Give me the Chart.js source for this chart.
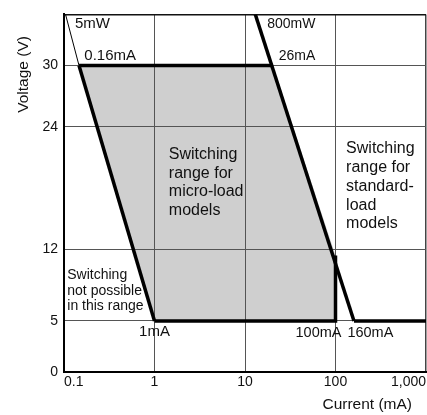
<!DOCTYPE html>
<html>
<head>
<meta charset="utf-8">
<script src="https://cdn.jsdelivr.net/npm/chart.js@4.4.0/dist/chart.umd.min.js"></script>
<style>
  html, body { margin: 0; padding: 0; background: #fff; }
  canvas { display: block; }
</style>
</head>
<body>
<canvas id="rangeChart" width="427" height="415"></canvas>
<script>
// axis ticks
const xTicks = [0.1, 1, 10, 100, 1000];
const xTickLabels = ['0.1', '1', '10', '100', '1,000'];
const yTicks = [0, 5, 12, 24, 30];

// limit lines, current (mA) / voltage (V)
const line5mWX = [0.104, 0.1465];
const line5mWY = [35, 30];
const microLeftX = [0.1465, 1];
const microLeftY = [30, 5];
const microTopX = [0.1465, 20.3];
const microTopY = [30, 30];
const line800mWX = [13, 160];
const line800mWY = [35, 5];
const microBottomX = [1, 100, 100];
const microBottomY = [5, 5, 11.4];
const stdBottomX = [160, 1000];
const stdBottomY = [5, 5];

// shaded micro-load area
const microAreaX = [0.1465, 20.3, 100, 100, 1, 0.1465];
const microAreaY = [30, 30, 11.4, 5, 5, 30];

const FONT = '"Liberation Sans", Arial, Helvetica, sans-serif';

function pts(xs, ys) {
    return xs.map((v, i) => ({x: v, y: ys[i]}));
}

function thick(xs, ys) {
    return {
        data: pts(xs, ys),
        showLine: true,
        borderColor: '#000',
        borderWidth: 3.5,
        pointRadius: 0,
        fill: false
    };
}

// text on the plot, placed in data units
const notes = [
    {text: ['5mW'], x: 0.132, y: 33.66, size: 15},
    {text: ['0.16mA'], x: 0.1676, y: 30.56, size: 15},
    {text: ['800mW'], x: 17.6, y: 33.66, size: 14},
    {text: ['26mA'], x: 23.6, y: 30.56, size: 14},
    {text: ['Switching', 'range for', 'micro-load', 'models'], x: 1.44, y: 20.8, size: 16, lh: 18.4},
    {text: ['Switching', 'range for', 'standard-', 'load', 'models'], x: 131, y: 21.4, size: 16, lh: 18.75},
    {text: ['Switching', 'not possible', 'in this range'], x: 0.1087, y: 9.1, size: 14, lh: 15.7},
    {text: ['1mA'], x: 1, y: 3.49, size: 15, align: 'center'},
    {text: ['100mA'], x: 64.9, y: 3.46, size: 14.5, align: 'center'},
    {text: ['160mA'], x: 243, y: 3.46, size: 14.5, align: 'center'}
];

const notesPlugin = {
    id: 'notes',
    afterDraw(chart) {
        const {ctx, chartArea, scales: {x, y}} = chart;
        ctx.save();
        ctx.fillStyle = '#111';
        ctx.textBaseline = 'alphabetic';
        notes.forEach(n => {
            ctx.font = n.size + 'px ' + FONT;
            ctx.textAlign = n.align || 'left';
            const px = x.getPixelForValue(n.x);
            const py = y.getPixelForValue(n.y);
            n.text.forEach((t, i) => ctx.fillText(t, px, py + i * (n.lh || 0)));
        });
        // axis titles
        ctx.font = '15.5px ' + FONT;
        ctx.textAlign = 'right';
        ctx.fillText('Current (mA)', chartArea.right - 14, chartArea.bottom + 37);
        ctx.translate(chartArea.left - 40, chartArea.top + 60);
        ctx.rotate(-Math.PI / 2);
        ctx.textAlign = 'center';
        ctx.textBaseline = 'middle';
        ctx.fillText('Voltage (V)', 0, 0);
        ctx.restore();
    }
};

const ctx = document.getElementById('rangeChart').getContext('2d');

const rangeChart = new Chart(ctx, {
    type: 'scatter',
    data: {
        datasets: [
            {
                data: pts(microAreaX, microAreaY),
                showLine: true,
                borderWidth: 0,
                borderColor: 'rgba(0,0,0,0)',
                backgroundColor: '#cfcfcf',
                pointRadius: 0,
                fill: 'shape'
            },
            {
                data: pts(line5mWX, line5mWY),
                showLine: true,
                borderColor: '#000',
                borderWidth: 1,
                pointRadius: 0,
                fill: false
            },
            thick(microLeftX, microLeftY),
            thick(microTopX, microTopY),
            thick(line800mWX, line800mWY),
            thick(microBottomX, microBottomY),
            thick(stdBottomX, stdBottomY)
        ]
    },
    options: {
        responsive: false,
        animation: false,
        layout: {
            padding: {top: 10, right: 1, left: 0, bottom: 0}
        },
        plugins: {
            legend: {display: false},
            tooltip: {enabled: false},
            filler: {drawTime: 'beforeDraw'}
        },
        scales: {
            x: {
                type: 'logarithmic',
                min: 0.1,
                max: 1000,
                afterBuildTicks: s => { s.ticks = xTicks.map(v => ({value: v})); },
                afterFit: s => { s.height = 43; s.paddingLeft = 0; s.paddingRight = 0; },
                ticks: {
                    autoSkip: false,
                    maxRotation: 0,
                    align: 'inner',
                    padding: 2,
                    color: '#111',
                    font: {family: FONT, size: 14},
                    callback: (v) => {
                        const i = xTicks.indexOf(v);
                        return i >= 0 ? xTickLabels[i] : '';
                    }
                },
                grid: {
                    drawTicks: false,
                    color: c => c.tick && c.tick.value === 1000 ? '#444' : '#555',
                    lineWidth: c => c.tick && c.tick.value === 1000 ? 1.5 : 1
                },
                border: {color: '#000', width: 2}
            },
            y: {
                min: 0,
                max: 35,
                afterBuildTicks: s => { s.ticks = yTicks.concat([35]).map(v => ({value: v})); },
                afterFit: s => { s.width = 64; },
                ticks: {
                    autoSkip: false,
                    padding: 6,
                    color: '#111',
                    font: {family: FONT, size: 14},
                    callback: v => yTicks.includes(v) ? String(v) : ''
                },
                grid: {
                    drawTicks: false,
                    color: c => c.tick && c.tick.value === 35 ? '#111' : '#555',
                    lineWidth: c => c.tick && c.tick.value === 35 ? 1.5 : 1
                },
                border: {color: '#000', width: 2}
            }
        }
    },
    plugins: [notesPlugin]
});
</script>
</body>
</html>
